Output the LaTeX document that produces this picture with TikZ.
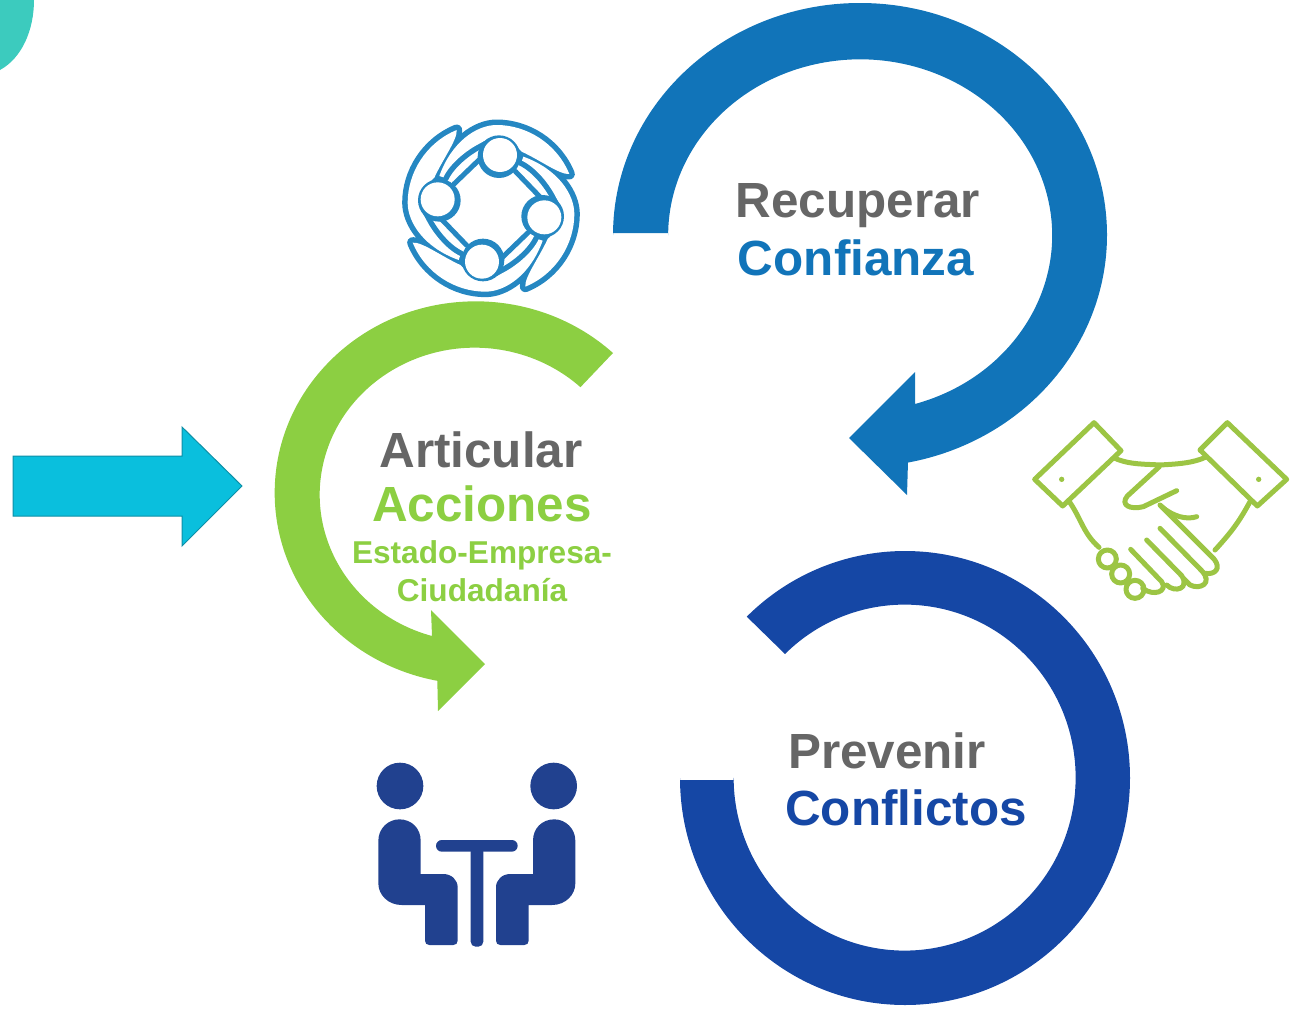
\documentclass[tikz,border=0pt]{standalone}
\usepackage{fontspec}
\setmainfont{Liberation Sans}
\definecolor{cblue}{HTML}{1174B9}
\definecolor{cgreen}{HTML}{8CCF42}
\definecolor{cnavy}{HTML}{1547A5}
\definecolor{ccyan}{HTML}{0ABFDD}
\definecolor{cedge}{HTML}{0E8FA6}
\definecolor{cteal}{HTML}{3CCBBE}
\definecolor{cgray}{HTML}{666666}
\definecolor{cnet}{HTML}{2587C2}
\definecolor{chand}{HTML}{9CC544}
\definecolor{cmeet}{HTML}{21418F}
\tikzset{
 lab/.style={font=\bfseries\fontsize{#1}{#1}\selectfont,inner sep=0pt,anchor=base},
 hand/.style={draw=chand,line width=5pt,line cap=round,line join=round}
}
\begin{document}
\begin{tikzpicture}[x=1pt,y=1pt,yscale=-1]
\useasboundingbox (0,0) rectangle (1306,1009);
% corner
\fill[cteal] (0,0) -- (34,0) .. controls (34,30) and (22,58) .. (0,70) -- cycle;
% blue arrow arc
\fill[cblue] (613,233) -- (613,235) arc[start angle=180,end angle=438.8,x radius=247pt,y radius=232pt]
  -- (907,495) -- (849,438) -- (915,372) -- (915,404)
  arc[start angle=433.4,end angle=180,x radius=192pt,y radius=176pt] -- (668,233) -- cycle;
% green arrow arc
\fill[cgreen] (613,353) arc[start angle=-46.9,end angle=-259,x radius=201pt,y radius=191.5pt]
  -- (438,711) -- (485,664) -- (431,610) -- (432,636)
  arc[start angle=-254,end angle=-47,x radius=155pt,y radius=147pt] -- cycle;
% navy arc
\fill[cnavy] (680,780) -- (680,778) arc[start angle=180,end angle=-134.7,x radius=225pt,y radius=227pt]
  -- (785,654)
  arc[start angle=-134.4,end angle=180,x radius=171pt,y radius=173pt] -- (734,780) -- cycle;
% cyan arrow
\draw[fill=ccyan,draw=cedge,line width=1pt] (13,456) -- (182,456) -- (182,427) -- (242,486) -- (182,546) -- (182,516) -- (13,516) -- cycle;
% labels
\node[lab=49.4,text=cgray] (t1) at (858,217) {Recuperar};
\node[lab=49.4,text=cblue] (t2) at (856,275) {Confianza};
\node[lab=49.4,text=cgray] (t3) at (481,467) {Articular};
\node[lab=49.4,text=cgreen] (t4) at (482,521) {Acciones};
\node[lab=31.6,text=cgreen] (t5) at (482,563) {Estado-Empresa-};
\node[lab=31.6,text=cgreen] (t6) at (482,601) {Ciudadanía};
\node[lab=49.4,text=cgray] (t7) at (887,768) {Prevenir};
\node[lab=49.4,text=cnavy] (t8) at (906,825) {Conflictos};
% network icon
\begin{scope}[shift={(380,100)},scale=1/3]
\foreach \a in {0,90,180,270}{
 \begin{scope}[rotate around={\a:(333,325)}]
  \draw[cnet,fill=cnet,line width=11pt,line join=round]
   (178,228) .. controls (215,125) and (290,75) .. (350,75) .. controls (440,75) and (530,130) .. (568,222)
   .. controls (540,225) and (480,180) .. (425,155) .. controls (400,125) and (330,105) .. (300,130)
   .. controls (260,150) and (210,190) .. (190,232) -- cycle;
 \end{scope}}
\foreach \a in {0,90,180,270}{
 \begin{scope}[rotate around={\a:(333,325)}]
  \fill[white]
   (178,228) .. controls (215,125) and (290,75) .. (350,75) .. controls (440,75) and (530,130) .. (568,222)
   .. controls (540,225) and (480,180) .. (425,155) .. controls (400,125) and (330,105) .. (300,130)
   .. controls (260,150) and (210,190) .. (190,232) -- cycle;
 \end{scope}}
\foreach \a in {0,90,180,270}{
 \begin{scope}[rotate around={\a:(333,325)}]
  \fill[cnet] (357,170) circle[radius=64pt];
  \draw[cnet,line width=5pt,line cap=round] (222,252) -- (305,172);
 \end{scope}}
\foreach \a in {0,90,180,270}{
 \begin{scope}[rotate around={\a:(333,325)}]
  \fill[white] (360,165) circle[radius=51pt];
 \end{scope}}
\end{scope}
% handshake
\begin{scope}[shift={(1020,410)},scale=1/3]
\draw[hand] (222,38) -- (303,122) -- (128,288) -- (44,208) -- cycle;
\draw[hand] (622,38) -- (540,120) -- (712,288) -- (800,208) -- cycle;
\fill[chand] (125,208) circle[radius=8pt] (716,208) circle[radius=8pt];
\draw[hand] (285,145) .. controls (330,165) and (380,162) .. (420,165) .. controls (470,162) and (520,160) .. (560,140);
\draw[hand] (418,170) -- (322,258) .. controls (300,285) and (330,300) .. (370,290) -- (470,242);
\draw[hand] (150,278) .. controls (185,330) and (190,370) .. (237,412);
\draw[hand] (690,275) .. controls (660,330) and (640,360) .. (585,420);
\draw[hand] (420,285) -- (582,447) .. controls (605,475) and (585,495) .. (555,490);
\draw[hand] (425,290) .. controls (460,320) and (500,330) .. (530,320);
\draw[hand] (420,355) -- (545,482) .. controls (580,520) and (540,540) .. (510,525) -- (490,505);
\draw[hand] (380,390) -- (485,497) .. controls (510,535) and (465,550) .. (440,525);
\draw[hand] (332,418) -- (425,515) .. controls (445,545) and (400,560) .. (368,535);
\draw[hand] (262,447) circle[radius=27pt];
\draw[hand] (302,492) circle[radius=27pt];
\draw[hand] (345,538) circle[radius=27pt];
\end{scope}
% meeting icon
\begin{scope}[shift={(360,750)},scale=1/3]
\fill[cmeet] (120,108) circle[radius=70pt] (581,108) circle[radius=70pt];
\fill[cmeet,rounded corners=5.8pt] (228,270) rectangle (473,305);
\fill[cmeet,rounded corners=5pt] (332,290) rectangle (370,590);
\fill[cmeet] (55,272) .. controls (55,235) and (85,208) .. (118,208) .. controls (155,208) and (182,235) .. (182,272)
 -- (182,372) -- (250,372) .. controls (275,372) and (293,390) .. (293,412) -- (293,572)
 .. controls (293,580) and (288,585) .. (280,585) -- (208,585) .. controls (200,585) and (195,580) .. (195,572)
 -- (195,465) -- (125,465) .. controls (85,465) and (55,435) .. (55,400) -- cycle;
\fill[cmeet] (646,272) .. controls (646,235) and (616,208) .. (583,208) .. controls (546,208) and (519,235) .. (519,272)
 -- (519,372) -- (451,372) .. controls (426,372) and (408,390) .. (408,412) -- (408,572)
 .. controls (408,580) and (413,585) .. (421,585) -- (493,585) .. controls (501,585) and (506,580) .. (506,572)
 -- (506,465) -- (576,465) .. controls (616,465) and (646,435) .. (646,400) -- cycle;
\end{scope}
\end{tikzpicture}
\end{document}
